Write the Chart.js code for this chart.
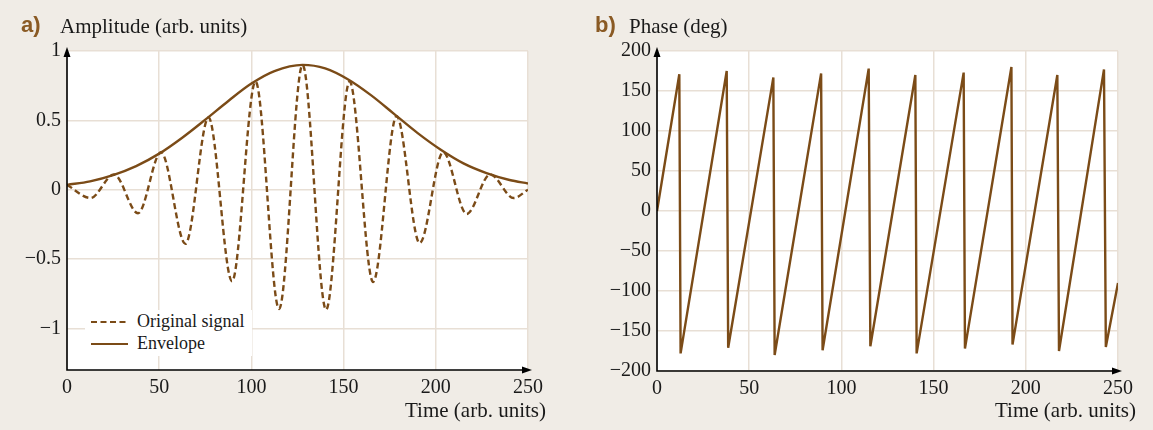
<!DOCTYPE html>
<html>
<head>
<meta charset="utf-8">
<script src="https://cdn.jsdelivr.net/npm/chart.js@4"></script>
<style>
  body { margin: 0; background: #f0ece6; }
  #page { position: relative; width: 1153px; height: 430px; overflow: hidden; background: #f0ece6; }
  .box { position: absolute; top: 0; height: 430px; }
  .tag { position: absolute; font-family: "Liberation Sans", Arial, sans-serif; font-weight: bold; font-size: 22px; color: #8a5a24; }
  .ttl { position: absolute; font-family: "Liberation Serif", "Times New Roman", serif; font-size: 21px; color: #1a1a1a; white-space: nowrap; }
  .legend { position: absolute; left: 85px; top: 310px; width: 167px; height: 46px; background: #fff;
            font-family: "Liberation Serif", "Times New Roman", serif; font-size: 18px; color: #1a1a1a; }
  .legend div { position: absolute; left: 52px; white-space: nowrap; }
  .legend svg { position: absolute; left: 5px; }
</style>
</head>
<body>
<div id="page">
  <div class="box" style="left:0;width:576px"><canvas id="chartA"></canvas></div>
  <div class="box" style="left:576px;width:577px"><canvas id="chartB"></canvas></div>

  <div class="tag" style="left:21px;top:12px">a)</div>
  <div class="ttl" style="left:60px;top:14px">Amplitude (arb. units)</div>
  <div class="ttl" style="right:607px;top:398px">Time (arb. units)</div>

  <div class="tag" style="left:595px;top:12px">b)</div>
  <div class="ttl" style="left:629px;top:14px">Phase (deg)</div>
  <div class="ttl" style="right:17px;top:398px">Time (arb. units)</div>

  <div class="legend">
    <svg width="44" height="46">
      <line x1="1" y1="12" x2="38" y2="12" stroke="#7b4b17" stroke-width="2.2" stroke-dasharray="6,3.5"/>
      <line x1="1" y1="34" x2="38" y2="34" stroke="#7b4b17" stroke-width="2.2"/>
    </svg>
    <div style="top:1px">Original signal</div>
    <div style="top:23px">Envelope</div>
  </div>
</div>

<script>
// panel a) amplitude
var sigT = [0, 12.75, 25.5, 38.5, 51, 64.25, 76.75, 89.5, 102.25, 115, 127.75, 140.5, 153.25, 166, 178.75, 191.25, 204, 216.75, 229.5, 242.25, 250];
var sigV = [0.035, -0.06, 0.11, -0.17, 0.27, -0.39, 0.52, -0.66, 0.78, -0.86, 0.9, -0.865, 0.78, -0.665, 0.53, -0.385, 0.27, -0.175, 0.11, -0.06, 0.0];

var envT = [0, 12.5, 25, 37.5, 50, 62.5, 75, 87.5, 100, 112.5, 127.75, 140, 152.5, 165, 177.5, 190, 202.5, 215, 227.5, 240, 250];
var envV = [0.035, 0.06, 0.105, 0.17, 0.26, 0.375, 0.505, 0.64, 0.765, 0.855, 0.9, 0.875, 0.795, 0.68, 0.545, 0.41, 0.29, 0.19, 0.12, 0.07, 0.045];

// panel b) phase
var phT = [0, 12.1, 12.8, 37.8, 38.6, 63.1, 63.8, 89.0, 89.8, 114.8, 115.7, 140.1, 140.8, 166.3, 167.0, 192.2, 192.8, 217.1, 218.0, 242.4, 243.4, 250];
var phV = [0, 171, -178, 175, -171, 167, -180, 172, -174, 178, -169, 170, -178, 173, -172, 180, -167, 170, -175, 177, -170, -90];

// ticks
var timeTicks = [0, 50, 100, 150, 200, 250];
var ampTicks = [-1, -0.5, 0, 0.5, 1];
var phaseTicks = [-200, -150, -100, -50, 0, 50, 100, 150, 200];

var brown = '#7b4b17';
var gridCol = '#e8dfd5';
var tickFont = { family: '"Liberation Serif", "Times New Roman", serif', size: 20 };

function pts(xs, ys) {
  return xs.map(function (x, i) { return { x: x, y: ys[i] }; });
}
function minus(v) {
  return String(v).replace('-', '\u2212');
}

// white plot background + black axes with arrow heads
var axesPlugin = {
  id: 'axes',
  beforeDraw: function (chart) {
    var a = chart.chartArea, c = chart.ctx;
    c.save();
    c.fillStyle = '#fff';
    c.fillRect(a.left, a.top, a.right - a.left, a.bottom - a.top);
    c.restore();
  },
  afterDatasetsDraw: function (chart) {
    var a = chart.chartArea, c = chart.ctx;
    c.save();
    c.strokeStyle = '#000';
    c.fillStyle = '#000';
    c.lineWidth = 1.6;
    c.beginPath();
    c.moveTo(a.left, a.top + 4);
    c.lineTo(a.left, a.bottom);
    c.lineTo(a.right - 4, a.bottom);
    c.stroke();
    c.beginPath();
    c.moveTo(a.left, a.top - 4);
    c.lineTo(a.left - 3.5, a.top + 6);
    c.lineTo(a.left + 3.5, a.top + 6);
    c.closePath();
    c.fill();
    c.beginPath();
    c.moveTo(a.right + 4, a.bottom);
    c.lineTo(a.right - 6, a.bottom - 3.5);
    c.lineTo(a.right - 6, a.bottom + 3.5);
    c.closePath();
    c.fill();
    c.restore();
  }
};

function makeOptions(yMin, yMax, yTicks, yWidth, xHeight, padRight) {
  return {
    responsive: true,
    maintainAspectRatio: false,
    animation: false,
    layout: { padding: { top: 51, right: padRight, left: 0, bottom: 0 } },
    plugins: { legend: { display: false }, tooltip: { enabled: false } },
    elements: { point: { radius: 0 } },
    scales: {
      x: {
        type: 'linear', min: 0, max: 250,
        afterBuildTicks: function (s) { s.ticks = timeTicks.map(function (v) { return { value: v }; }); },
        afterFit: function (s) { s.height = xHeight; },
        grid: { color: gridCol, lineWidth: 1.5, drawTicks: false },
        border: { display: false },
        ticks: { font: tickFont, color: '#1a1a1a', padding: 6, maxRotation: 0, autoSkip: false }
      },
      y: {
        type: 'linear', min: yMin, max: yMax,
        afterBuildTicks: function (s) { s.ticks = yTicks.map(function (v) { return { value: v }; }); },
        afterFit: function (s) { s.width = yWidth; },
        grid: { color: gridCol, lineWidth: 1.5, drawTicks: false },
        border: { display: false },
        ticks: { font: tickFont, color: '#1a1a1a', padding: 6, callback: function (v) { return minus(v); } }
      }
    }
  };
}

new Chart(document.getElementById('chartA').getContext('2d'), {
  type: 'line',
  data: {
    datasets: [
      { label: 'Original signal', data: pts(sigT, sigV), borderColor: brown, borderWidth: 2.4,
        borderDash: [6, 3.5], cubicInterpolationMode: 'monotone' },
      { label: 'Envelope', data: pts(envT, envV), borderColor: brown, borderWidth: 2.4,
        cubicInterpolationMode: 'monotone' }
    ]
  },
  options: makeOptions(-1.3, 1, ampTicks, 67, 60, 48),
  plugins: [axesPlugin]
});

new Chart(document.getElementById('chartB').getContext('2d'), {
  type: 'line',
  data: {
    datasets: [
      { label: 'Phase', data: pts(phT, phV), borderColor: brown, borderWidth: 2.4, tension: 0 }
    ]
  },
  options: makeOptions(-200, 200, phaseTicks, 81, 59, 35),
  plugins: [axesPlugin]
});
</script>
</body>
</html>
